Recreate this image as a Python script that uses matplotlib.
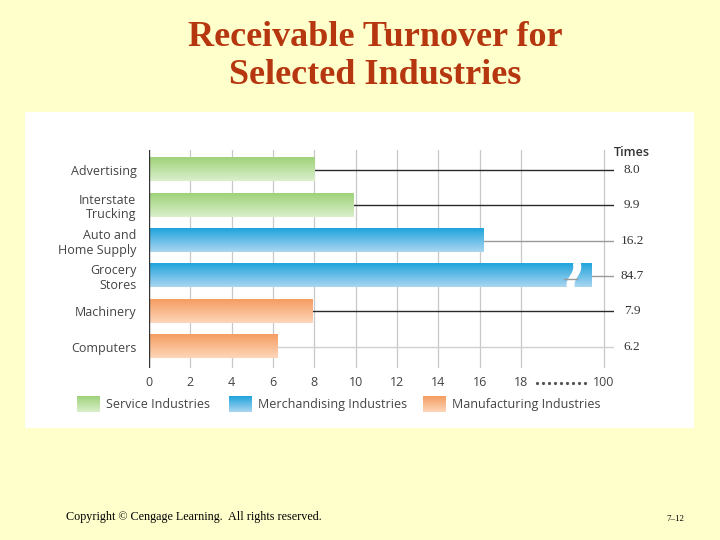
import numpy as np
import matplotlib
matplotlib.use("Agg")
import matplotlib.pyplot as plt
from matplotlib.colors import LinearSegmentedColormap

# ---- data ----
industries = ["Advertising", "Interstate\nTrucking", "Auto and\nHome Supply",
              "Grocery\nStores", "Machinery", "Computers"]
turnover = [8.0, 9.9, 16.2, 84.7, 7.9, 6.2]
groups = ["service", "service", "merch", "merch", "manuf", "manuf"]
leader_colors = ["#2a2a2a", "#2a2a2a", "#9a9a9a", "#9a9a9a", "#2a2a2a", "#d0d0d0"]
tick_vals = [0, 2, 4, 6, 8, 10, 12, 14, 16, 18, 100]
legend_labels = {"service": "Service Industries",
                 "merch": "Merchandising Industries",
                 "manuf": "Manufacturing Industries"}

gradients = {"service": ("#9fd27a", "#daefcb"),
             "merch": ("#20a4dc", "#aad6f1"),
             "manuf": ("#f59d62", "#fdd6ba")}

BG = "#ffffcc"
TITLE_C = "#b5360f"
SANS = ["Open Sans", "DejaVu Sans"]
SERIF = ["Liberation Serif", "DejaVu Serif"]

# axis break: values above BRK are squeezed so that 100 lands at 22
BRK = 19.0


def to_disp(v):
    return v if v <= BRK else BRK + (v - BRK) * 3.0 / (100 - BRK)


def grad_rect(ax, x0, x1, ytop, ybot, top, bot, zorder=2):
    cmap = LinearSegmentedColormap.from_list("g", [top, bot])
    img = np.linspace(0, 1, 64).reshape(-1, 1)
    ax.imshow(img, cmap=cmap, extent=(x0, x1, ybot, ytop), origin="upper",
              aspect="auto", interpolation="bilinear", zorder=zorder)


fig = plt.figure(figsize=(7.2, 5.4), dpi=100, facecolor=BG)

# page layer in pixel coordinates
page = fig.add_axes([0, 0, 1, 1], zorder=0)
page.set_xlim(0, 720)
page.set_ylim(540, 0)
page.axis("off")
page.add_patch(plt.Rectangle((25, 112), 669, 316, facecolor="white",
                             edgecolor="none"))

page.text(375, 38, "Receivable Turnover for", ha="center", va="center",
          fontsize=26, fontweight="bold", color=TITLE_C, family=SERIF)
page.text(375, 76, "Selected Industries", ha="center", va="center",
          fontsize=26, fontweight="bold", color=TITLE_C, family=SERIF)
page.text(66, 517, "Copyright \u00a9 Cengage Learning.  All rights reserved.",
          ha="left", va="center", fontsize=8.7, color="black", family=SERIF)
page.text(684, 519, "7\u201312", ha="right", va="center", fontsize=6.5,
          color="black", family=SERIF)

# legend
for (key, px), tx in zip([("service", 77), ("merch", 229), ("manuf", 423)],
                         [106, 258, 452]):
    top, bot = gradients[key]
    grad_rect(page, px, px + 23, 396, 412, top, bot)
    page.text(tx, 404.5, legend_labels[key], ha="left", va="center",
              fontsize=9, color="#444444", family=SANS)
page.set_xlim(0, 720)
page.set_ylim(540, 0)

# chart layer
ax = fig.add_axes([149 / 720, 1 - 368 / 540, 465 / 720, 218 / 540], zorder=1)
ax.patch.set_alpha(0)
for s in ax.spines.values():
    s.set_visible(False)

ypos = np.arange(len(industries))
bar_h = 0.65
xmax = 22.5

for x in tick_vals[1:]:
    ax.axvline(to_disp(x), color="#c8c8c8", lw=0.9, zorder=0)
ax.axvline(0, color="#333333", lw=1.0, zorder=5)

for y, v, g, lc in zip(ypos, turnover, groups, leader_colors):
    d = to_disp(v)
    ax.plot([0, xmax], [y, y], color=lc, lw=1.0, zorder=1)
    top, bot = gradients[g]
    grad_rect(ax, 0, d, y - bar_h / 2, y + bar_h / 2, top, bot, zorder=2)
    if v > BRK:
        # white zig-zag break in the long bar
        c = BRK + 1.4
        t = np.linspace(0, 1, 20)
        yy = y - bar_h / 2 - 0.02 + t * (bar_h + 0.04)
        xl = c + 0.15 - 0.3 * t + 0.07 * np.sin(2 * np.pi * t)
        ax.fill(np.r_[xl, (xl + 0.32)[::-1]], np.r_[yy, yy[::-1]],
                color="white", zorder=3)
        ax.plot([c - 0.3, c + 0.3], [y + 0.08, y + 0.08], color=lc, lw=1.0,
                zorder=4)
    ax.text(23.37, y, f"{v:.1f}", ha="center", va="center", fontsize=9.5,
            color="#333333", family=SERIF, clip_on=False)

ax.text(23.37, -0.48, "Times", ha="center", va="center", fontsize=9,
        fontweight="semibold", color="#333333", family=SANS, clip_on=False)

ax.set_xlim(0, xmax)
ax.set_ylim(5.6, -0.56)
ax.set_xticks([to_disp(x) for x in tick_vals])
ax.set_xticklabels([str(x) for x in tick_vals], family=SANS, fontsize=9,
                   color="#444444")
ax.set_yticks(ypos)
ax.set_yticklabels(industries, family=SANS, fontsize=9, color="#444444",
                   linespacing=1.15)
ax.tick_params(length=0, pad=6)
ax.tick_params(axis="y", pad=9)

# dotted gap marker between 18 and 100
dots = np.linspace(18.75, 21.1, 9)
ax.plot(dots, np.full_like(dots, 6.02), linestyle="none", marker="o",
        markersize=1.3, color="#555555", clip_on=False)

fig.savefig("out.png", dpi=100, facecolor=BG)
